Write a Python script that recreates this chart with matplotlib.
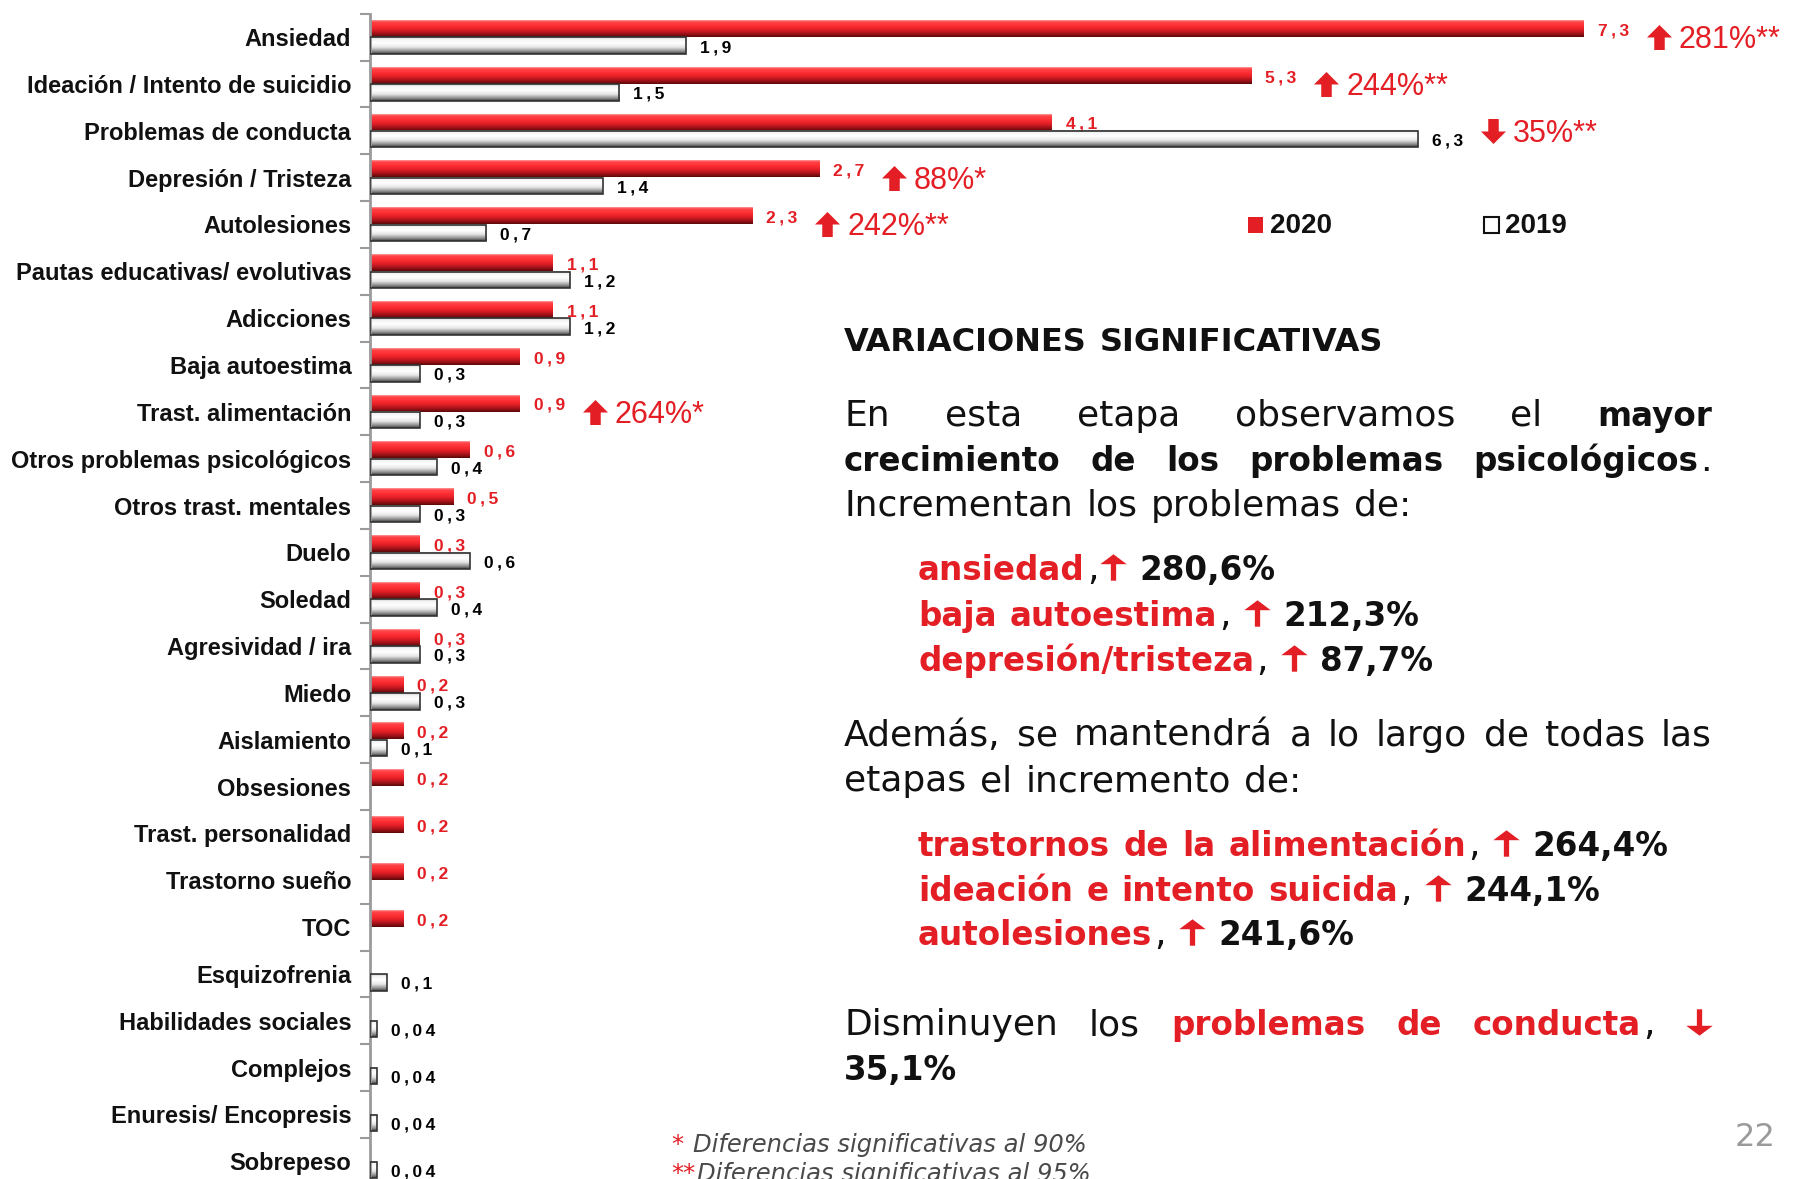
import numpy as np
import matplotlib

matplotlib.use("Agg")

import matplotlib.pyplot as plt  # noqa: E402
from matplotlib.colors import LinearSegmentedColormap  # noqa: E402
from matplotlib.lines import Line2D  # noqa: E402
from matplotlib.patches import Rectangle  # noqa: E402
from matplotlib.path import Path  # noqa: E402
from matplotlib.transforms import ScaledTranslation  # noqa: E402

W, H, DPI = 1793, 1179, 100
RED = "#E31E24"
INK = "#111111"
nan = np.nan

# --- data -----------------------------------------------------------------
CATEGORIES = [
    "Ansiedad",
    "Ideación / Intento de suicidio",
    "Problemas de conducta",
    "Depresión / Tristeza",
    "Autolesiones",
    "Pautas educativas/ evolutivas",
    "Adicciones",
    "Baja autoestima",
    "Trast. alimentación",
    "Otros problemas psicológicos",
    "Otros trast. mentales",
    "Duelo",
    "Soledad",
    "Agresividad / ira",
    "Miedo",
    "Aislamiento",
    "Obsesiones",
    "Trast. personalidad",
    "Trastorno sueño",
    "TOC",
    "Esquizofrenia",
    "Habilidades sociales",
    "Complejos",
    "Enuresis/ Encopresis",
    "Sobrepeso",
]
V2020 = [7.3, 5.3, 4.1, 2.7, 2.3, 1.1, 1.1, 0.9, 0.9, 0.6, 0.5, 0.3, 0.3,
         0.3, 0.2, 0.2, 0.2, 0.2, 0.2, 0.2, nan, nan, nan, nan, nan]
V2019 = [1.9, 1.5, 6.3, 1.4, 0.7, 1.2, 1.2, 0.3, 0.3, 0.4, 0.3, 0.6, 0.4,
         0.3, 0.3, 0.1, nan, nan, nan, nan, 0.1, 0.04, 0.04, 0.04, 0.04]
SERIES = ["2020", "2019"]

CHANGE_ROWS = [0, 1, 2, 3, 4, 8]
CHANGE_TEXT = ["281%**", "244%**", "35%**", "88%*", "242%**", "264%*"]
CHANGE_UP = [True, True, False, True, True, True]

RED_CMAP = LinearSegmentedColormap.from_list(
    "redbar",
    [(0.0, "#5A0808"), (0.2, "#A3121A"), (0.45, "#E51F27"),
     (0.7, "#FF3236"), (0.9, "#FF4448"), (1.0, "#FF9C9C")],
)
WHITE_CMAP = LinearSegmentedColormap.from_list(
    "whitebar",
    [(0.0, "#3C3C3C"), (0.15, "#8A8A8A"), (0.4, "#E6E6E6"),
     (0.65, "#FFFFFF"), (0.9, "#F2F2F2"), (1.0, "#B4B4B4")],
)


def arrow_path(shaft, head, up=True):
    """Closed arrow outline in [-1, 1]; ``shaft`` is half-width, ``head`` the head base."""
    pts = [(-1, head), (0, 1), (1, head), (shaft, head), (shaft, -1),
           (-shaft, -1), (-shaft, head), (-1, head)]
    if not up:
        pts = [(x, -y) for x, y in pts]
    codes = [Path.MOVETO] + [Path.LINETO] * 6 + [Path.CLOSEPOLY]
    return Path(pts, codes)


BLOCK_UP, BLOCK_DOWN = arrow_path(0.42, 0.0), arrow_path(0.42, 0.0, up=False)
THIN = {"up": arrow_path(0.2, 0.25), "down": arrow_path(0.2, 0.25, up=False)}


def fx(x):
    return x / W


def fy(y):
    return 1 - y / H


def label_of(v):
    return "\u2009".join(("%g" % v).replace(".", ","))


fig = plt.figure(figsize=(W / DPI, H / DPI), dpi=DPI)
renderer = fig.canvas.get_renderer()

# --- bar chart ------------------------------------------------------------
n = len(CATEGORIES)
ax_top, ax_bot = 13.7, 13.7 + n * 46.84
ax = fig.add_axes([fx(370), fy(ax_bot), 8.6 * 166.3 / W, (ax_bot - ax_top) / H])
rows = -np.arange(n)
bar_h = 0.35
grad = np.linspace(0, 1, 64).reshape(-1, 1)

for values, dy, cmap, edge in (
    (V2020, 0.18, RED_CMAP, "none"),
    (V2019, -0.18, WHITE_CMAP, "#333333"),
):
    for y, v in zip(rows, values):
        if np.isnan(v):
            continue
        y0 = y + dy - bar_h / 2
        ax.imshow(grad, cmap=cmap, extent=[0, v, y0, y0 + bar_h], origin="lower",
                  aspect="auto", interpolation="bilinear", zorder=2)
        ax.add_patch(Rectangle((0, y0), v, bar_h, facecolor="none",
                               edgecolor=edge, linewidth=1.2, zorder=3))
        ax.annotate(label_of(v), xy=(v, y + dy), xytext=(14, -2),
                    textcoords="offset pixels", ha="left", va="center",
                    fontsize=12.5, fontweight="bold",
                    family=["Liberation Sans", "DejaVu Sans"],
                    color=RED if cmap is RED_CMAP else "#000000")

arrow_shift = ax.transData + ScaledTranslation(75 / DPI, 0, fig.dpi_scale_trans)
for row, text, up in zip(CHANGE_ROWS, CHANGE_TEXT, CHANGE_UP):
    v = np.nanmax([V2020[row], V2019[row]])
    y = rows[row]
    ax.plot([v], [y], linestyle="none", marker=BLOCK_UP if up else BLOCK_DOWN,
            markersize=18, markeredgewidth=0, color=RED,
            transform=arrow_shift, clip_on=False)
    ax.annotate(text, xy=(v, y), xytext=(95, -11), textcoords="offset pixels",
                ha="left", va="baseline", fontsize=22,
                family="Liberation Sans", color=RED)

ax.set_xlim(0, 8.6)
ax.set_ylim(-n + 0.5, 0.5)
for side in ("top", "right", "bottom"):
    ax.spines[side].set_visible(False)
ax.spines["left"].set_color("#9A9A9A")
ax.spines["left"].set_linewidth(2)
ax.set_xticks([])
ax.set_yticks(0.5 - np.arange(n + 1), [])
ax.tick_params(axis="y", which="major", length=7, width=1.5, color="#9A9A9A")
ax.set_yticks(rows, CATEGORIES, minor=True)
ax.tick_params(axis="y", which="minor", length=0, pad=13.5)
for lab in ax.get_yticklabels(minor=True):
    lab.set_fontsize(17)
    lab.set_fontweight("bold")
    lab.set_family("Liberation Sans")
    lab.set_color(INK)

# legend
for (x_box, x_txt), name, face in zip(((1248, 1270), (1484, 1505)), SERIES,
                                      (RED, "white")):
    fig.add_artist(Rectangle((fx(x_box), fy(233)), 15 / W, 16 / H,
                             transform=fig.transFigure, facecolor=face,
                             edgecolor="none" if face == RED else "#111111",
                             linewidth=1.5))
    fig.text(fx(x_txt), fy(233), name, ha="left", va="baseline", fontsize=20,
             fontweight="bold", family="Liberation Sans", color=INK)

# --- text block -----------------------------------------------------------
STYLES = {
    "reg": dict(family="DejaVu Sans", fontsize=26, color=INK),
    "bold": dict(family="DejaVu Sans", fontsize=23.5, fontweight="bold", color=INK),
    "red": dict(family="DejaVu Sans", fontsize=23.5, fontweight="bold", color=RED),
    "title": dict(family="DejaVu Sans", fontsize=23, fontweight="bold", color=INK),
    "fn": dict(family="DejaVu Sans", fontsize=17.5, style="italic", color="#4A4A4A"),
    "fnred": dict(family="DejaVu Sans", fontsize=17.5, style="italic", color=RED),
}
ARROW_W = 26


def width(t):
    return t.get_window_extent(renderer).width


def space_of(style):
    a = fig.text(0, 0, "n n", **STYLES[style])
    b = fig.text(0, 0, "nn", **STYLES[style])
    s = width(a) - width(b)
    a.remove()
    b.remove()
    return s


def line(runs, y, x0, x1=None):
    """Place runs (text, style, space-before) on one baseline, optionally justified.

    A run with style "arrow" is drawn as a red arrow mark ("up" or "down").
    """
    items = []
    for t, s, _ in runs:
        if s == "arrow":
            items.append((t, ARROW_W))
        else:
            txt = fig.text(0, fy(y), t, ha="left", va="baseline", **STYLES[s])
            items.append((txt, width(txt)))
    gaps = [g for _, _, g in runs]
    space = space_of(runs[0][1])
    tight = 2
    if x1 is not None and sum(gaps[1:]):
        free = x1 - x0 - sum(w for _, w in items) - tight * (len(runs) - 1)
        space = free / sum(gaps[1:])
    x = x0
    for i, (obj, w) in enumerate(items):
        if i:
            x += tight + (space if gaps[i] else 0)
        if isinstance(obj, str):
            fig.add_artist(Line2D([fx(x + w / 2)], [fy(y - 13)], marker=THIN[obj],
                                  markersize=19, markeredgewidth=0, color=RED,
                                  linestyle="none", transform=fig.transFigure))
        else:
            obj.set_x(fx(x))
        x += w


def words(text, style, first_gap=True):
    return [(w, style, first_gap if i == 0 else True)
            for i, w in enumerate(text.split())]


X0, X1, XI = 844, 1712, 918
line(words("VARIACIONES SIGNIFICATIVAS", "title", False), 351, X0)
line(words("En esta etapa observamos el", "reg", False) + words("mayor", "bold"),
     426, X0, X1)
line(words("crecimiento de los problemas psicológicos", "bold", False)
     + [(".", "reg", False)], 471, X0, X1)
line(words("Incrementan los problemas de:", "reg", False), 516, X0)

increases = [
    ("ansiedad", "280,6%", False),
    ("baja autoestima", "212,3%", True),
    ("depresión/tristeza", "87,7%", True),
]
for i, (name, pct, gap) in enumerate(increases):
    line(words(name, "red", False) + [(",", "reg", False), ("up", "arrow", gap),
                                      (pct, "bold", True)], 580 + 45.5 * i, XI)

line(words("Además, se mantendrá a lo largo de todas las", "reg", False), 746, X0, X1)
line(words("etapas el incremento de:", "reg", False), 791, X0)

increases2 = [
    ("trastornos de la alimentación", "264,4%"),
    ("ideación e intento suicida", "244,1%"),
    ("autolesiones", "241,6%"),
]
for i, (name, pct) in enumerate(increases2):
    line(words(name, "red", False) + [(",", "reg", False), ("up", "arrow", True),
                                      (pct, "bold", True)], 856 + 44.7 * i, XI)

line(words("Disminuyen los", "reg", False) + words("problemas de conducta", "red")
     + [(",", "reg", False), ("down", "arrow", True)], 1035, X0, X1)
line([("35,1%", "bold", False)], 1080, X0)

line([("*", "fnred", False), ("Diferencias significativas al 90%", "fn", True)], 1152, 671)
line([("**", "fnred", False), ("Diferencias significativas al 95%", "fn", False)], 1181, 671)

fig.text(fx(1735), fy(1146), "22", ha="left", va="baseline", fontsize=23,
         family="DejaVu Sans", color="#9A9A9A")

fig.savefig("out.png", dpi=DPI)
